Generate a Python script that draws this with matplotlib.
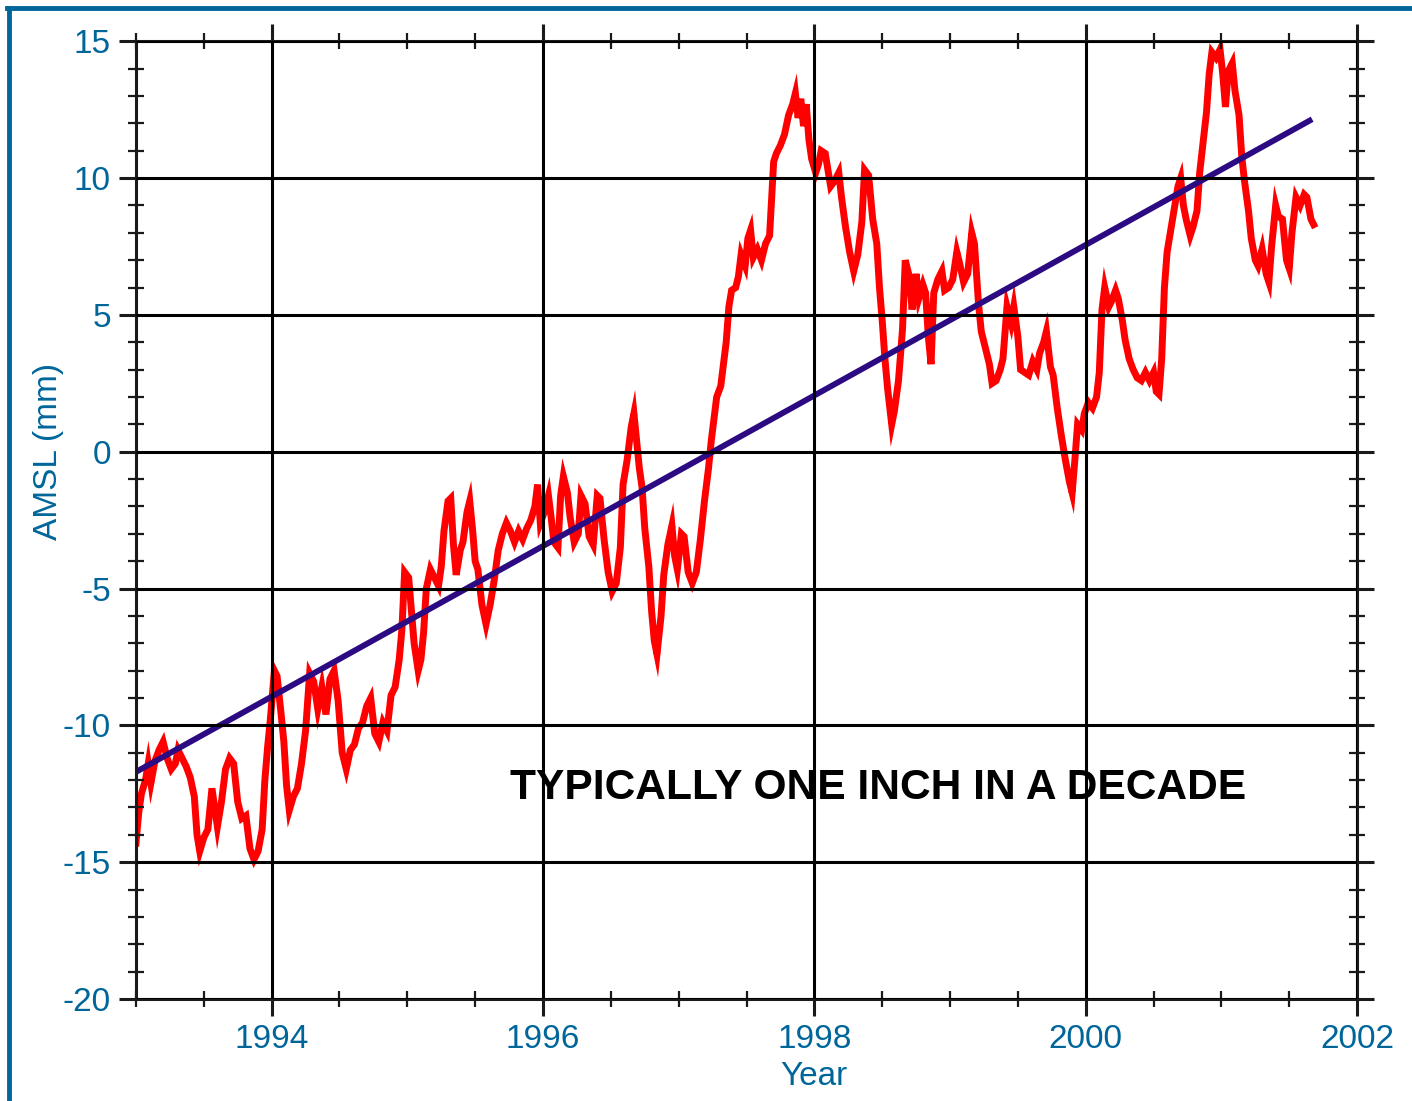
import matplotlib
matplotlib.use("Agg")
import matplotlib.pyplot as plt
from matplotlib.lines import Line2D
from matplotlib.ticker import MultipleLocator

plt.rcParams["axes.unicode_minus"] = False

# sea level anomaly (year, mm)
years = [
    1993.00, 1993.02, 1993.04, 1993.07, 1993.09, 1993.11, 1993.14, 1993.17, 1993.20, 1993.23,
    1993.26, 1993.29, 1993.31, 1993.34, 1993.37, 1993.40, 1993.43, 1993.45, 1993.47, 1993.50,
    1993.53, 1993.56, 1993.58, 1993.60, 1993.63, 1993.66, 1993.69, 1993.72, 1993.75, 1993.78,
    1993.81, 1993.84, 1993.87, 1993.90, 1993.93, 1993.95, 1993.97, 1993.99, 1994.02, 1994.04,
    1994.07, 1994.09, 1994.11, 1994.13, 1994.16, 1994.19, 1994.22, 1994.25, 1994.28, 1994.31,
    1994.34, 1994.37, 1994.40, 1994.43, 1994.46, 1994.49, 1994.52, 1994.55, 1994.58, 1994.61,
    1994.64, 1994.67, 1994.70, 1994.73, 1994.76, 1994.79, 1994.82, 1994.85, 1994.88, 1994.91,
    1994.94, 1994.96, 1994.98, 1995.01, 1995.03, 1995.05, 1995.08, 1995.10, 1995.12, 1995.14,
    1995.17, 1995.20, 1995.23, 1995.25, 1995.27, 1995.30, 1995.32, 1995.34, 1995.36, 1995.39,
    1995.41, 1995.44, 1995.46, 1995.48, 1995.50, 1995.52, 1995.55, 1995.58, 1995.61, 1995.64,
    1995.67, 1995.70, 1995.73, 1995.76, 1995.79, 1995.82, 1995.85, 1995.88, 1995.91, 1995.94,
    1995.96, 1995.98, 1996.01, 1996.04, 1996.06, 1996.08, 1996.11, 1996.13, 1996.15, 1996.18,
    1996.20, 1996.23, 1996.26, 1996.28, 1996.31, 1996.34, 1996.37, 1996.40, 1996.42, 1996.45,
    1996.48, 1996.51, 1996.54, 1996.57, 1996.59, 1996.62, 1996.65, 1996.67, 1996.69, 1996.71,
    1996.73, 1996.75, 1996.78, 1996.80, 1996.82, 1996.84, 1996.87, 1996.89, 1996.92, 1996.95,
    1996.97, 1996.99, 1997.02, 1997.04, 1997.07, 1997.10, 1997.13, 1997.16, 1997.19, 1997.22,
    1997.24, 1997.26, 1997.28, 1997.31, 1997.33, 1997.35, 1997.37, 1997.39, 1997.42, 1997.44,
    1997.46, 1997.49, 1997.51, 1997.53, 1997.55, 1997.58, 1997.61, 1997.64, 1997.67, 1997.70,
    1997.72, 1997.75, 1997.78, 1997.81, 1997.84, 1997.86, 1997.88, 1997.90, 1997.92, 1997.94,
    1997.96, 1997.98, 1998.01, 1998.03, 1998.05, 1998.08, 1998.10, 1998.12, 1998.15, 1998.18,
    1998.20, 1998.23, 1998.26, 1998.29, 1998.32, 1998.35, 1998.37, 1998.40, 1998.43, 1998.46,
    1998.48, 1998.50, 1998.52, 1998.54, 1998.57, 1998.59, 1998.62, 1998.65, 1998.67, 1998.70,
    1998.72, 1998.75, 1998.77, 1998.80, 1998.82, 1998.84, 1998.86, 1998.88, 1998.91, 1998.94,
    1998.96, 1998.99, 1999.02, 1999.05, 1999.07, 1999.10, 1999.13, 1999.16, 1999.18, 1999.21,
    1999.23, 1999.26, 1999.29, 1999.31, 1999.34, 1999.37, 1999.39, 1999.42, 1999.45, 1999.47,
    1999.50, 1999.52, 1999.55, 1999.58, 1999.61, 1999.64, 1999.66, 1999.69, 1999.71, 1999.74,
    1999.76, 1999.79, 1999.82, 1999.85, 1999.88, 1999.90, 1999.92, 1999.94, 1999.97, 1999.99,
    2000.02, 2000.05, 2000.08, 2000.10, 2000.12, 2000.14, 2000.17, 2000.19, 2000.22, 2000.24,
    2000.27, 2000.29, 2000.32, 2000.35, 2000.38, 2000.41, 2000.44, 2000.47, 2000.50, 2000.52,
    2000.54, 2000.56, 2000.58, 2000.60, 2000.62, 2000.65, 2000.68, 2000.70, 2000.72, 2000.74,
    2000.77, 2000.79, 2000.82, 2000.84, 2000.87, 2000.89, 2000.91, 2000.93, 2000.96, 2000.99,
    2001.01, 2001.03, 2001.05, 2001.08, 2001.10, 2001.13, 2001.15, 2001.17, 2001.20, 2001.22,
    2001.25, 2001.27, 2001.30, 2001.33, 2001.35, 2001.37, 2001.40, 2001.42, 2001.45, 2001.48,
    2001.50, 2001.52, 2001.55, 2001.58, 2001.61, 2001.63, 2001.66, 2001.68,
]
amsl = [
    -14.3, -13.2, -12.5, -12.0, -11.4, -12.1, -11.3, -10.9, -10.6, -11.2,
    -11.6, -11.4, -10.9, -11.2, -11.5, -11.9, -12.6, -14.0, -14.6, -14.1,
    -13.8, -12.3, -13.0, -13.7, -12.8, -11.6, -11.2, -11.4, -12.8, -13.4,
    -13.3, -14.5, -14.9, -14.6, -13.8, -12.0, -10.8, -9.8, -8.0, -8.2,
    -9.6, -10.6, -12.2, -13.1, -12.6, -12.3, -11.4, -10.2, -8.1, -8.4,
    -9.4, -8.6, -9.6, -8.3, -8.0, -9.1, -11.0, -11.6, -10.9, -10.7,
    -10.1, -9.9, -9.3, -9.0, -10.3, -10.6, -9.9, -10.2, -8.9, -8.6,
    -7.6, -6.5, -4.4, -4.6, -5.8, -7.0, -8.0, -7.6, -6.6, -5.0,
    -4.3, -4.6, -4.9, -4.2, -2.9, -1.8, -1.7, -3.4, -4.5, -3.6,
    -3.3, -2.2, -1.8, -2.8, -4.0, -4.3, -5.6, -6.3, -5.6, -4.7,
    -3.6, -3.0, -2.6, -2.9, -3.3, -2.9, -3.2, -2.8, -2.5, -2.0,
    -1.2, -2.6, -2.2, -1.6, -2.4, -3.3, -3.5, -1.6, -0.9, -1.5,
    -2.4, -3.3, -3.0, -1.6, -1.9, -3.1, -3.4, -1.6, -1.7, -3.2,
    -4.4, -5.1, -4.8, -3.5, -1.2, -0.3, 0.9, 1.4, 0.4, -0.6,
    -1.3, -2.8, -4.2, -5.8, -6.9, -7.4, -6.0, -4.5, -3.4, -2.7,
    -3.8, -4.3, -3.0, -3.1, -4.4, -4.8, -4.4, -3.2, -1.8, -0.6,
    0.4, 1.2, 2.0, 2.4, 3.2, 4.0, 5.3, 5.9, 6.0, 6.4,
    7.2, 6.8, 7.8, 8.1, 7.1, 7.4, 7.0, 7.6, 7.9, 10.6,
    10.9, 11.2, 11.6, 12.3, 12.7, 13.1, 12.2, 12.9, 11.9, 12.7,
    11.4, 10.7, 10.2, 10.5, 11.0, 10.9, 10.3, 9.7, 9.9, 10.2,
    9.3, 8.2, 7.3, 6.6, 7.2, 8.4, 10.3, 10.1, 8.5, 7.6,
    6.0, 4.8, 3.4, 2.3, 1.0, 1.5, 2.6, 4.5, 7.0, 6.4,
    5.2, 6.5, 5.6, 6.1, 5.8, 4.2, 3.2, 5.8, 6.3, 6.6,
    5.9, 6.0, 6.3, 7.3, 6.9, 6.2, 6.5, 8.0, 7.6, 5.4,
    4.4, 3.8, 3.2, 2.5, 2.6, 3.0, 3.4, 5.3, 4.7, 5.3,
    4.2, 3.0, 2.9, 2.8, 3.3, 3.0, 3.6, 4.0, 4.4, 3.1,
    2.8, 1.6, 0.6, -0.3, -1.1, -1.5, -0.3, 1.0, 0.8, 1.4,
    1.8, 1.6, 2.0, 2.9, 5.2, 6.0, 5.3, 5.5, 5.9, 5.6,
    4.8, 4.1, 3.4, 3.0, 2.7, 2.6, 2.9, 2.6, 2.9, 2.2,
    2.1, 3.4, 6.0, 7.3, 7.9, 8.8, 9.7, 10.0, 9.0, 8.5,
    7.9, 8.2, 8.8, 10.2, 11.5, 12.4, 13.8, 14.6, 14.4, 14.7,
    13.8, 12.6, 13.9, 14.2, 13.2, 12.3, 10.8, 9.9, 8.8, 7.8,
    7.0, 6.8, 7.4, 6.5, 6.2, 7.5, 9.0, 8.6, 8.5, 7.0,
    6.7, 8.0, 9.3, 9.0, 9.4, 9.3, 8.5, 8.3,
]

# fitted trend line end points
trend_years = [1993.0, 2001.65]
trend_amsl = [-11.7, 12.1]

label_blue = "#00669a"

fig = plt.figure(figsize=(14.12, 11.01), dpi=100)
ax = fig.add_axes([0.0963, 0.0926, 0.8648, 0.8699])

ax.plot(years, amsl, color="#ff0000", lw=5.0, solid_joinstyle="miter", zorder=2)
ax.plot(trend_years, trend_amsl, color="#2b0a82", lw=4.2, zorder=2.1)

ax.text(1995.755, -12.68, "TYPICALLY ONE INCH IN A DECADE",
        family="Liberation Sans", fontweight="bold",
        fontsize=30.6, color="black", ha="left", va="baseline", zorder=2.2)

ax.set_xlim(1993.0, 2002.0)
ax.set_ylim(-20, 15)
ax.xaxis.set_major_locator(MultipleLocator(2))
ax.xaxis.set_minor_locator(MultipleLocator(0.5))
ax.yaxis.set_major_locator(MultipleLocator(5))
ax.yaxis.set_minor_locator(MultipleLocator(1))

ax.set_axisbelow(False)
ax.grid(True, which="major", color="black", lw=2.2)

ax.tick_params(which="major", direction="out", length=12, width=2.2, color="#1a1a1a",
               top=True, right=True, labelsize=24, labelcolor=label_blue, pad=6)
ax.tick_params(which="minor", direction="inout", length=12, width=1.6, color="#1a1a1a",
               top=True, right=True)
for lab in ax.get_xticklabels() + ax.get_yticklabels():
    lab.set_family("Liberation Sans")

for sp in ax.spines.values():
    sp.set_linewidth(2.2)
    sp.set_color("#1a1a1a")

ax.set_xlabel("Year", fontsize=24, color=label_blue, family="Liberation Sans")
ax.set_ylabel("AMSL (mm)", fontsize=24, color=label_blue, family="Liberation Sans")
ax.xaxis.set_label_coords(0.555, -0.081)
ax.yaxis.set_label_coords(-0.072, 0.572)
ax.xaxis.label.set_verticalalignment("center")
ax.yaxis.label.set_verticalalignment("center")

# blue frame along top and left edges
fig.add_artist(Line2D([0.0064, 0.0064], [0.0, 0.9923], color="#006699", lw=3.5,
                      transform=fig.transFigure))
fig.add_artist(Line2D([0.0052, 1.0], [0.9923, 0.9923], color="#006699", lw=3.5,
                      transform=fig.transFigure))

fig.savefig("out.png", dpi=100)
